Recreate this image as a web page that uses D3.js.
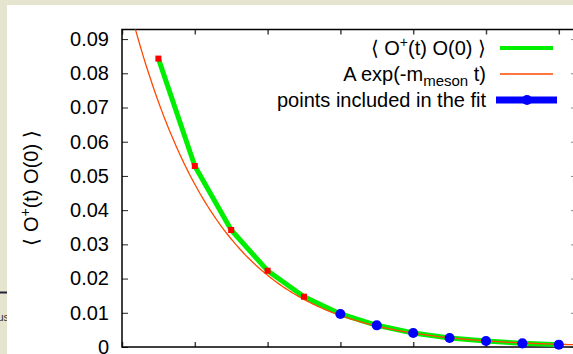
<!DOCTYPE html>
<html>
<head>
<meta charset="utf-8">
<script src="https://cdn.jsdelivr.net/npm/d3@7/dist/d3.min.js"></script>
<style>
  html, body { margin: 0; padding: 0; background: #e5e5cf; }
  svg { display: block; }
</style>
</head>
<body>
<svg id="chart" width="573" height="354"></svg>
<script>
// ---- data ----
const times = [1, 2, 3, 4, 5, 6, 7, 8, 9, 10, 11, 12];
const correlator = [0.0843, 0.0529, 0.0342, 0.0223, 0.0147, 0.00965, 0.00634, 0.0041, 0.00263, 0.00175, 0.00107, 0.00068];
const fitTimes = [6, 7, 8, 9, 10, 11, 12];           // points included in the fit
const fitAmplitude = 0.108;                          // A
const fitMass = 0.41;                                // m_meson
const yTicks = [0, 0.01, 0.02, 0.03, 0.04, 0.05, 0.06, 0.07, 0.08, 0.09];
const yTickLabels = ["0", "0.01", "0.02", "0.03", "0.04", "0.05", "0.06", "0.07", "0.08", "0.09"];
const xTicks = [0, 2, 4, 6, 8, 10, 12];

(function () {
// ---- layout ----
const svg = d3.select("#chart");
const W = 573, H = 354;
const pL = 122, pR = 577, pT = 29.5, pB = 347;
const font = "'Liberation Sans', Arial, Helvetica, sans-serif";

svg.append("rect").attr("x", 0).attr("y", 0).attr("width", W).attr("height", H).attr("fill", "#e5e5cf");
// cut-off fragment from neighbouring page content
svg.append("line").attr("x1", 0).attr("x2", 7).attr("y1", 292.5).attr("y2", 292.5)
  .attr("stroke", "#22223a").attr("stroke-width", 2);
svg.append("text").attr("x", 9).attr("y", 321).attr("text-anchor", "end")
  .attr("font-family", font).attr("font-size", 11).attr("fill", "#333").text("us");
svg.append("rect").attr("x", 7).attr("y", 5).attr("width", W - 7).attr("height", H - 5).attr("fill", "#ffffff");

const x = d3.scaleLinear().domain([0, 12.5]).range([pL, pR]);
const y = d3.scaleLinear().domain([0, 0.0928]).range([pB, pT]);

svg.append("defs").append("clipPath").attr("id", "plotclip")
  .append("rect").attr("x", pL).attr("y", pT).attr("width", pR - pL).attr("height", pB - pT);

// ---- axes (gnuplot style: inward ticks on all four sides) ----
const axL = d3.axisLeft(y).tickValues(yTicks).tickFormat((d, i) => yTickLabels[i]).tickSizeInner(-6).tickSizeOuter(0).tickPadding(13);
const gL = svg.append("g").attr("transform", `translate(${pL},0)`).call(axL);
gL.select(".domain").remove();
gL.selectAll("text").attr("font-family", font).attr("font-size", 20).attr("fill", "#000");
gL.selectAll("line").attr("stroke", "#222");

const axR = d3.axisRight(y).tickValues(yTicks).tickFormat("").tickSizeInner(-6).tickSizeOuter(0);
const gR = svg.append("g").attr("transform", `translate(${pR},0)`).call(axR);
gR.select(".domain").remove();
gR.selectAll("line").attr("stroke", "#888");

const axB = d3.axisBottom(x).tickValues(xTicks).tickFormat("").tickSizeInner(-5).tickSizeOuter(0);
const gB = svg.append("g").attr("transform", `translate(0,${pB})`).call(axB);
gB.select(".domain").remove();
gB.selectAll("line").attr("stroke", "#444").attr("stroke-width", 1.5);

const axT = d3.axisTop(x).tickValues(xTicks).tickFormat("").tickSizeInner(-5).tickSizeOuter(0);
const gT = svg.append("g").attr("transform", `translate(0,${pT})`).call(axT);
gT.select(".domain").remove();
gT.selectAll("line").attr("stroke", "#444").attr("stroke-width", 1.5);

// frame
svg.append("rect").attr("x", pL).attr("y", pT).attr("width", pR - pL).attr("height", pB - pT)
  .attr("fill", "none").attr("stroke", "#000").attr("stroke-width", 1.5);

// ---- plot ----
const plot = svg.append("g").attr("clip-path", "url(#plotclip)");
const pts = times.map((t, i) => ({ t, v: correlator[i] }));

plot.append("path").datum(pts)
  .attr("d", d3.line().x(d => x(d.t)).y(d => y(d.v)))
  .attr("fill", "none").attr("stroke", "#00ee00").attr("stroke-width", 5).attr("stroke-linejoin", "round");

const fitSamples = d3.range(0, 12.5001, 0.05).map(t => ({ t, v: fitAmplitude * Math.exp(-fitMass * t) }));
plot.append("path").datum(fitSamples)
  .attr("d", d3.line().x(d => x(d.t)).y(d => y(d.v)))
  .attr("fill", "none").attr("stroke", "#ff4a00").attr("stroke-width", 1.3);

plot.selectAll("rect.pt").data(pts).join("rect").attr("class", "pt")
  .attr("x", d => x(d.t) - 3).attr("y", d => y(d.v) - 3).attr("width", 6).attr("height", 6).attr("fill", "#ff0000");

const fitPts = pts.filter(d => fitTimes.includes(d.t));
svg.selectAll("path.fp").data(fitPts).join("path").attr("class", "fp")
  .attr("transform", d => `translate(${x(d.t)},${y(d.v)})`)
  .attr("d", d3.symbol(d3.symbolCircle, 80)).attr("fill", "#0000ff");

// ---- legend ----
const lg = svg.append("g").attr("font-family", font).attr("font-size", 20).attr("fill", "#000");
const t1 = lg.append("text").attr("x", 486).attr("y", 55).attr("text-anchor", "end");
t1.append("tspan").text("\u27E8 O");
t1.append("tspan").attr("font-size", 14).attr("dy", -8).text("+");
t1.append("tspan").attr("dy", 8).text("(t) O(0) \u27E9");
const t2 = lg.append("text").attr("x", 486).attr("y", 81).attr("text-anchor", "end");
t2.append("tspan").text("A exp(-m");
t2.append("tspan").attr("font-size", 15).attr("dy", 5).text("meson");
t2.append("tspan").attr("dy", -5).text(" t)");
lg.append("text").attr("x", 486).attr("y", 107).attr("text-anchor", "end").text("points included in the fit");

svg.append("line").attr("x1", 500).attr("x2", 553).attr("y1", 48).attr("y2", 48).attr("stroke", "#00ee00").attr("stroke-width", 4);
svg.append("line").attr("x1", 500).attr("x2", 553).attr("y1", 74).attr("y2", 74).attr("stroke", "#ff4a00").attr("stroke-width", 1.3);
svg.append("line").attr("x1", 496).attr("x2", 557).attr("y1", 100).attr("y2", 100).attr("stroke", "#0000ff").attr("stroke-width", 7);
svg.append("path").attr("transform", "translate(527,100)").attr("d", d3.symbol(d3.symbolCircle, 80)).attr("fill", "#0000ff");

// ---- y axis label ----
const yl = svg.append("text").attr("transform", "translate(38,188) rotate(-90)")
  .attr("text-anchor", "middle").attr("font-family", font).attr("font-size", 20).attr("fill", "#000");
yl.append("tspan").text("\u27E8 O");
yl.append("tspan").attr("font-size", 14).attr("dy", -8).text("+");
yl.append("tspan").attr("dy", 8).text("(t) O(0) \u27E9");
})();
</script>
</body>
</html>
